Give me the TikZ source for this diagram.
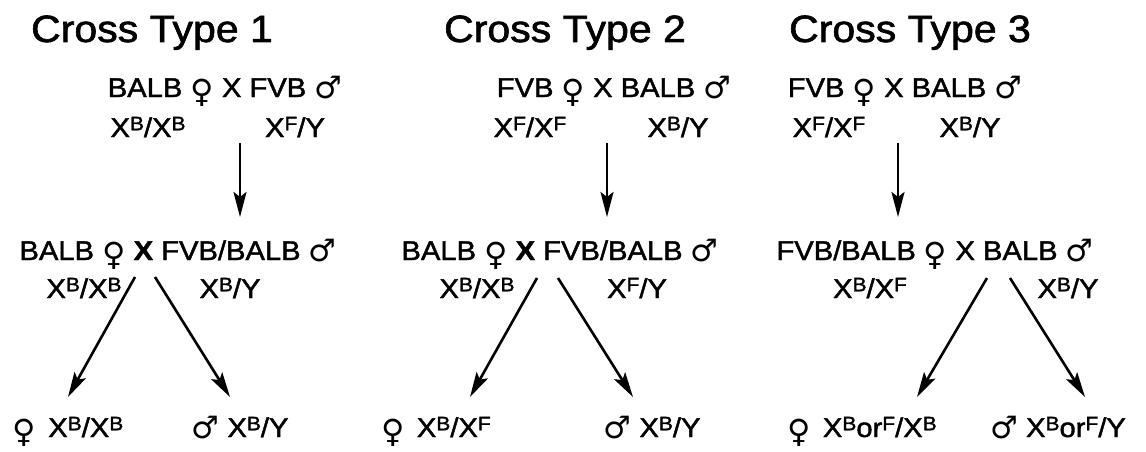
\documentclass[tikz,border=0pt]{standalone}
\usepackage{fontspec}
\setmainfont{Liberation Sans}[FakeStretch=1.08, FakeBold=1.6]
\newfontfamily\symf{DejaVu Sans}
\usepackage{graphicx}
\usetikzlibrary{arrows.meta}
\newcommand\sps[1]{\raisebox{0.25em}{\scalebox{0.72}{#1}}}
\newcommand\fem{\raisebox{-0.2em}{\symf\fontsize{32}{32}\selectfont ♀}}
\newcommand\mal{\raisebox{-0.04em}{\symf\fontsize{31}{31}\selectfont ♂}}
\begin{document}
\begin{tikzpicture}[x=1pt,y=-1pt,
  txt/.style={inner sep=0pt, anchor=base, font=\fontsize{27}{30}\selectfont},
  ttl/.style={inner sep=0pt, anchor=base, font=\fontsize{38}{40}\selectfont},
  arr/.style={line width=2.6pt, -{Stealth[length=25pt,width=13pt,inset=5pt]}}]
\useasboundingbox (0,0) rectangle (1146,452);
% ---------- Cross 1
\node[ttl] (t1) at (152,42) {Cross Type 1};
\node[txt] (p1) at (225,97) {BALB \fem{} X FVB \mal};
\node[txt] (g1a) at (148,137) {X\sps{B}/X\sps{B}};
\node[txt] (g1b) at (295,137) {X\sps{F}/Y};
\node[txt] (f1) at (178,260) {BALB \fem{} \textbf{X} FVB/BALB \mal};
\node[txt] (h1a) at (84,298) {X\sps{B}/X\sps{B}};
\node[txt] (h1b) at (230,298) {X\sps{B}/Y};
\node[txt] (o1a) at (68,437) {\fem\hspace{0.45em}X\sps{B}/X\sps{B}};
\node[txt] (o1b) at (240,437) {\mal\hspace{0.3em}X\sps{B}/Y};
\coordinate (a1s) at (240,143); \coordinate (a1e) at (240,217);
\coordinate (l1s) at (135,277); \coordinate (l1e) at (68,397);
\coordinate (r1s) at (155,277); \coordinate (r1e) at (230,397);
\draw[arr] (a1s) -- (a1e);
\draw[arr] (l1s) -- (l1e);
\draw[arr] (r1s) -- (r1e);
% ---------- Cross 2
\node[ttl] (t2) at (565,42) {Cross Type 2};
\node[txt] (p2) at (614,97) {FVB \fem{} X BALB \mal};
\node[txt] (g2a) at (530,137) {X\sps{F}/X\sps{F}};
\node[txt] (g2b) at (678,137) {X\sps{B}/Y};
\node[txt] (f2) at (560,260) {BALB \fem{} \textbf{X} FVB/BALB \mal};
\node[txt] (h2a) at (477,298) {X\sps{B}/X\sps{B}};
\node[txt] (h2b) at (637,298) {X\sps{F}/Y};
\node[txt] (o2a) at (436,437) {\fem\hspace{0.45em}X\sps{B}/X\sps{F}};
\node[txt] (o2b) at (652,437) {\mal\hspace{0.3em}X\sps{B}/Y};
\coordinate (a2s) at (607,143); \coordinate (a2e) at (607,217);
\coordinate (l2s) at (537,278); \coordinate (l2e) at (470,397);
\coordinate (r2s) at (558,278); \coordinate (r2e) at (633,397);
\draw[arr] (a2s) -- (a2e);
\draw[arr] (l2s) -- (l2e);
\draw[arr] (r2s) -- (r2e);
% ---------- Cross 3
\node[ttl] (t3) at (910,42) {Cross Type 3};
\node[txt] (p3) at (905,97) {FVB \fem{} X BALB \mal};
\node[txt] (g3a) at (829,137) {X\sps{F}/X\sps{F}};
\node[txt] (g3b) at (970,137) {X\sps{B}/Y};
\node[txt] (f3) at (935,260) {FVB/BALB \fem{} X BALB \mal};
\node[txt] (h3a) at (870,298) {X\sps{B}/X\sps{F}};
\node[txt] (h3b) at (1068,298) {X\sps{B}/Y};
\node[txt] (o3a) at (862,437) {\fem\hspace{0.45em}X\sps{B}or\sps{F}/X\sps{B}};
\node[txt] (o3b) at (1058,437) {\mal\hspace{0.3em}X\sps{B}or\sps{F}/Y};
\coordinate (a3s) at (898,143); \coordinate (a3e) at (898,217);
\coordinate (l3s) at (987,278); \coordinate (l3e) at (917,397);
\coordinate (r3s) at (1010,278); \coordinate (r3e) at (1085,397);
\draw[arr] (a3s) -- (a3e);
\draw[arr] (l3s) -- (l3e);
\draw[arr] (r3s) -- (r3e);
\end{tikzpicture}
\end{document}
